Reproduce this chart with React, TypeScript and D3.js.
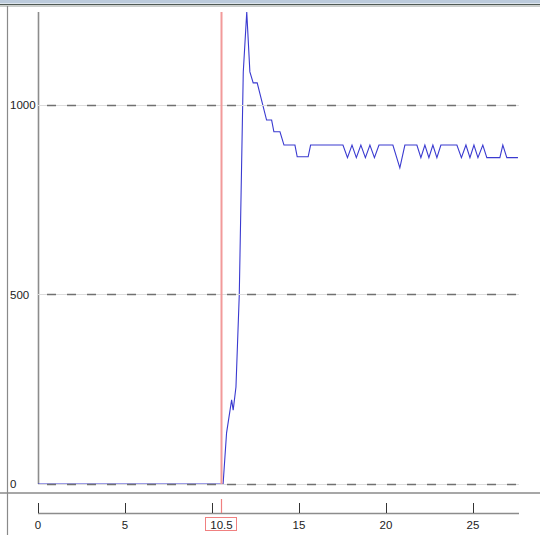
import React from "react";
import * as d3 from "d3";

const times: number[] = [
  0, 10.64, 10.84, 11.13, 11.22, 11.38, 11.57, 11.8, 12.0, 12.18, 12.37, 12.6,
  13.14, 13.43, 13.56, 13.91, 14.14, 14.77, 14.9, 15.53, 15.67,
  17.53, 17.79, 18.05, 18.3, 18.56, 18.82, 19.08, 19.34, 19.6,
  20.4, 20.8, 21.09, 21.78, 22.01, 22.24, 22.47, 22.7, 22.93, 23.16,
  24.08, 24.34, 24.6, 24.83, 25.06, 25.29, 25.57, 25.8, 26.55, 26.72, 26.95, 27.59,
];
const values: number[] = [
  0, 0, 135, 222, 195, 256, 499, 1087, 1245, 1087, 1058, 1058,
  960, 960, 929, 929, 894, 894, 863, 863, 894,
  894, 861, 894, 861, 894, 861, 894, 861, 894,
  894, 834, 894, 894, 861, 894, 861, 894, 861, 894,
  894, 861, 894, 861, 894, 861, 894, 861, 861, 894, 861, 861,
];
const yTicks: number[] = [0, 500, 1000];
const xTicks: number[] = [0, 5, 10, 15, 20, 25];
const marker = 10.5;

const W = 540;
const H = 535;

export default function App() {
  const x = d3.scaleLinear().domain([0, 27.65]).range([38, 519]);
  const y = d3.scaleLinear().domain([0, 1245]).range([484, 12]);
  const pts: [number, number][] = times.map((t, i) => [t, values[i]]);
  const line = d3
    .line<[number, number]>()
    .x((d) => x(d[0]))
    .y((d) => y(d[1]));
  const font = "'Liberation Sans', Arial, sans-serif";
  const mx = Math.round(x(marker)) + 0.5;
  return (
    <svg
      width={W}
      height={H}
      style={{ position: "absolute", left: 0, top: 0, background: "#fff" }}
    >
      <rect x={0} y={0} width={W} height={H} fill="#fff" />
      {/* frame */}
      <rect x={0} y={0} width={W} height={3.5} fill="#bccbdc" />
      <line x1={0} x2={W} y1={4.5} y2={4.5} stroke="#505a55" strokeWidth={1.2} />
      <line x1={0} x2={W} y1={6} y2={6} stroke="#9aa09c" strokeWidth={1} />
      <line x1={7.5} x2={7.5} y1={6} y2={H} stroke="#8a8a8a" strokeWidth={1.2} />
      <line x1={0} x2={W} y1={493} y2={493} stroke="#8a8a8a" strokeWidth={1.5} />

      {/* y axis line */}
      <line x1={38.5} x2={38.5} y1={12} y2={484} stroke="#8c8c8c" strokeWidth={1.6} />

      {/* data line */}
      <path d={line(pts) || ""} fill="none" stroke="#3a3ad0" strokeWidth={1.1} />

      {/* grid */}
      {yTicks.map((v) => (
        <g key={v}>
          <line x1={38} x2={519} y1={Math.round(y(v)) + 0.5} y2={Math.round(y(v)) + 0.5} stroke="#dcdcdc" strokeWidth={1} />
          <line
            x1={47}
            x2={519}
            y1={Math.round(y(v)) + 0.5}
            y2={Math.round(y(v)) + 0.5}
            stroke="#707070"
            strokeWidth={1.3}
            strokeDasharray="9 11"
          />
          <text
            x={10}
            y={y(v)}
            dy="0.36em"
            fontSize={11.5}
            fontFamily={font}
            fill="#222"
          >
            {v}
          </text>
        </g>
      ))}

      {/* marker line */}
      <line x1={mx} x2={mx} y1={12} y2={484} stroke="#f29a9a" strokeWidth={2} />

      {/* x axis */}
      <line x1={38} x2={519} y1={513.5} y2={513.5} stroke="#8c8c8c" strokeWidth={1.5} />
      {xTicks.map((t) => (
        <g key={t}>
          <line
            x1={Math.round(x(t)) + 0.5}
            x2={Math.round(x(t)) + 0.5}
            y1={503}
            y2={513}
            stroke="#333"
            strokeWidth={1}
          />
          {t !== 10 && (
            <text
              x={x(t)}
              y={529}
              textAnchor="middle"
              fontSize={11.5}
              fontFamily={font}
              fill="#222"
            >
              {t}
            </text>
          )}
        </g>
      ))}
      <line x1={mx} x2={mx} y1={499} y2={513} stroke="#f08080" strokeWidth={1.2} />
      <rect x={205.5} y={517.5} width={31} height={13} fill="#fff" stroke="#f08080" strokeWidth={1} />
      <text
        x={mx}
        y={528.5}
        textAnchor="middle"
        fontSize={11.5}
        fontFamily={font}
        fill="#222"
      >
        {marker}
      </text>
    </svg>
  );
}
